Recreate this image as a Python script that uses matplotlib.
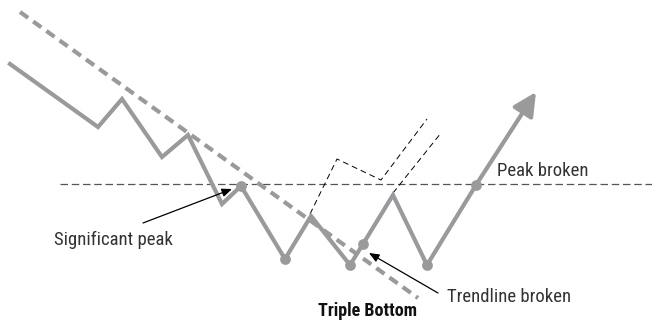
import matplotlib.pyplot as plt

# price path (pixel-like coordinates, y grows downward)
price_x = [10, 98, 122, 162, 188, 222, 241, 285, 311, 350, 363, 393, 427, 476]
price_y = [64, 127, 99, 157, 135, 204, 186, 259, 216, 265, 244, 195, 265, 185]
arrow_end = (536, 92)

# marked points on the path
dots_x = [241, 285, 350, 363, 427, 476]
dots_y = [186, 259, 265, 244, 265, 185]

# downtrend line and horizontal peak line
trend_x = [20, 418]
trend_y = [12, 298]
peak_x = [60, 652]
peak_y = [184, 184]

# thin dashed alternative paths
alt1_x = [310, 337, 381, 427]
alt1_y = [214, 159, 180, 119]
alt2_x = [393, 441]
alt2_y = [193, 133]

plt.rcParams['font.family'] = ['Roboto Condensed', 'DejaVu Sans']

grey = '#9a9a9c'
fig = plt.figure(figsize=(6.52, 3.24), dpi=100)
ax = fig.add_axes([0, 0, 1, 1])
ax.set_xlim(0, 652)
ax.set_ylim(324, 0)
ax.axis('off')

ax.plot(peak_x, peak_y, color='#555555', lw=0.9, ls=(0, (6, 3)))
ax.plot(trend_x, trend_y, color=grey, lw=3.0, ls=(0, (2.4, 1.5)))
ax.plot(alt1_x, alt1_y, color='black', lw=0.7, ls=(0, (6, 4)))
ax.plot(alt2_x, alt2_y, color='black', lw=0.7, ls=(0, (6, 4)))

ax.plot(price_x, price_y, color=grey, lw=3, solid_joinstyle='miter')
ax.annotate('', xy=arrow_end, xytext=(price_x[-1], price_y[-1]),
            arrowprops=dict(arrowstyle='-|>,head_length=1.4,head_width=0.7',
                            color=grey, lw=3, shrinkA=0, shrinkB=0))
ax.scatter(dots_x, dots_y, s=60, color=grey, zorder=5, linewidths=0)

ax.annotate('', xy=(232, 189), xytext=(143, 223),
            arrowprops=dict(arrowstyle='-|>,head_length=0.6,head_width=0.25',
                            color='black', lw=0.9, shrinkA=0, shrinkB=0))
ax.annotate('', xy=(369, 253), xytext=(438, 293),
            arrowprops=dict(arrowstyle='-|>,head_length=0.6,head_width=0.25',
                            color='black', lw=0.9, shrinkA=0, shrinkB=0))

label = dict(fontsize=13.5, color='#333333', va='center')
ax.text(113, 240, 'Significant peak', ha='center', **label)
ax.text(447, 297, 'Trendline broken', ha='left', **label)
ax.text(497, 171, 'Peak broken', ha='left', **label)
ax.text(367, 311, 'Triple Bottom', fontsize=13, color='#111111', ha='center', va='center',
        fontweight='bold')

fig.savefig('out.png', dpi=100)
